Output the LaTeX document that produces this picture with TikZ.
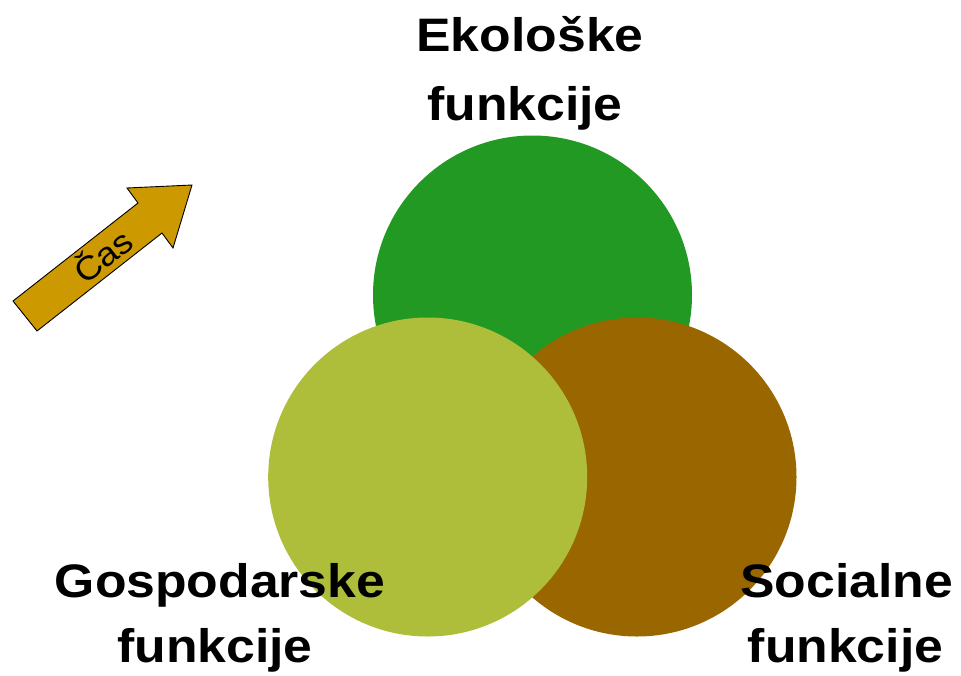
\documentclass[tikz,border=0pt]{standalone}
\usepackage{fontspec}
\setmainfont{Liberation Sans}
\newfontfamily\labfont[FakeStretch=1.1]{Liberation Sans}
\definecolor{cgreen}{HTML}{229922}
\definecolor{cbrown}{HTML}{996600}
\definecolor{colive}{HTML}{AFBE3A}
\definecolor{carrow}{HTML}{CC9900}
\tikzset{
  blob/.style={circle, draw=none, minimum size=319pt, inner sep=0pt},
  lab/.style={font=\labfont\bfseries\fontsize{47}{56}\selectfont, inner sep=0pt, anchor=base},
  arrowshape/.style={fill=carrow, draw=black, line width=0.9pt, line join=miter},
  castext/.style={font=\labfont\fontsize{33}{36}\selectfont, inner sep=0pt}
}
\begin{document}
\begin{tikzpicture}[x=1pt,y=-1pt]
\useasboundingbox (0,0) rectangle (961,675);
\node[blob, fill=cgreen] (eco) at (532.5,295) {};
\node[blob, fill=cbrown] (soc) at (637,477) {};
\node[blob, fill=colive] (gos) at (427.7,477) {};
\coordinate (t1) at (13,301);
\coordinate (t2) at (37,331);
\coordinate (s2) at (162,233);
\coordinate (b2) at (173,248);
\coordinate (tip) at (192,185);
\coordinate (b1) at (127,188);
\coordinate (s1) at (138,203);
\draw[arrowshape] (t1) -- (t2) -- (s2) -- (b2) -- (tip) -- (b1) -- (s1) -- cycle;
\node[castext, rotate=38] (cas) at (102,254.5) {Čas};
\node[lab] (eko1) at (530,51) {Ekološke};
\node[lab] (eko2) at (525,120) {funkcije};
\node[lab] (gos1) at (220,597.5) {Gospodarske};
\node[lab] (gos2) at (215,662) {funkcije};
\node[lab] (soc1) at (846.5,597.5) {Socialne};
\node[lab] (soc2) at (845.5,662) {funkcije};
\end{tikzpicture}
\end{document}
